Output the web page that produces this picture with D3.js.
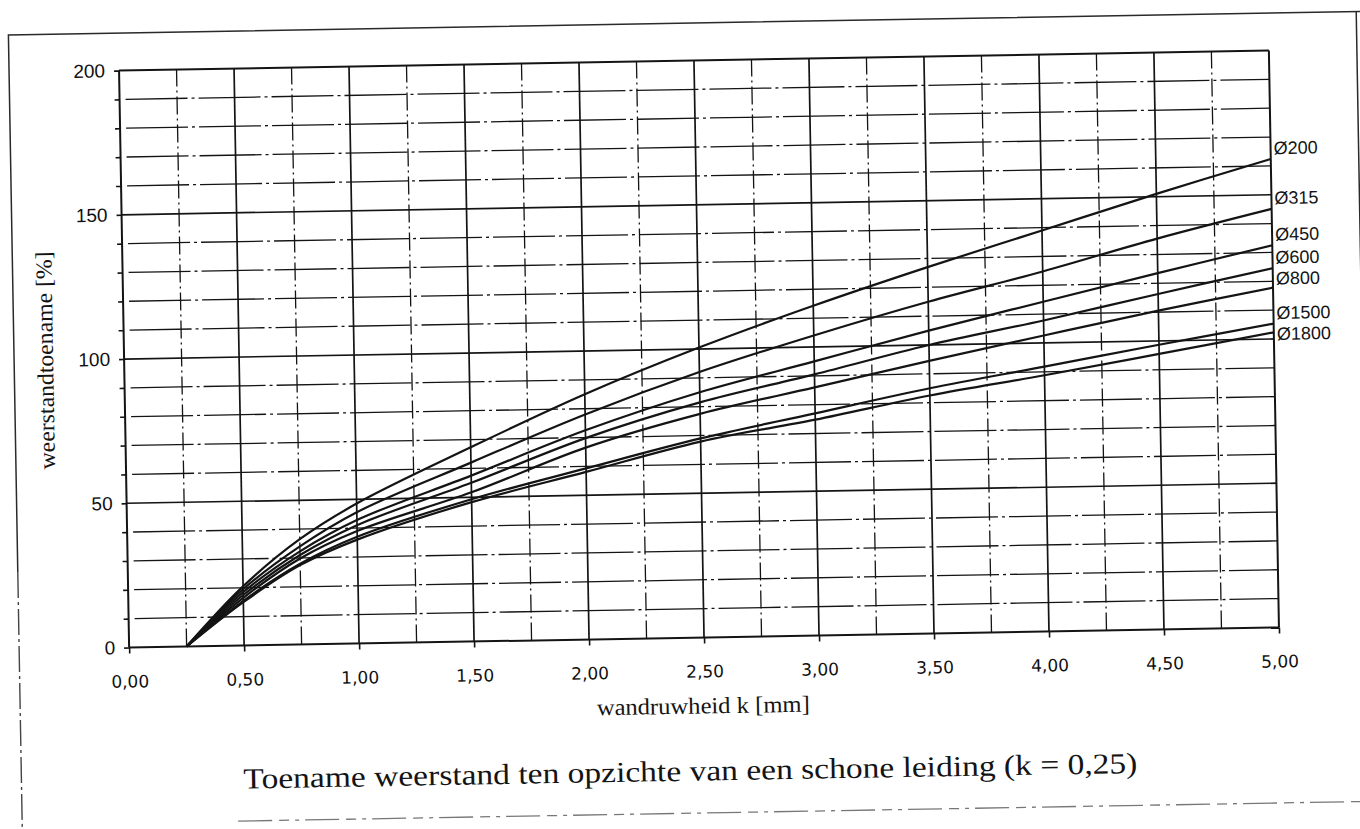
<!DOCTYPE html>
<html>
<head>
<meta charset="utf-8">
<script src="https://cdn.jsdelivr.net/npm/d3@7"></script>
<style>
  html, body { margin: 0; padding: 0; background: #fff; }
  svg { display: block; }
  .tick text { fill: #111; }
</style>
</head>
<body>
<div id="chart"></div>
<script>
// wall roughness k [mm]
const kValues = [0.25, 0.5, 0.75, 1, 1.5, 2, 2.5, 3, 3.5, 4, 4.5, 5];

// resistance increase [%] per pipe diameter
const d200 = [0, 20.5, 36.5, 48.5, 67.3, 85, 100.5, 114.3, 127, 139, 151, 162.4];
const d315 = [0, 19.5, 34, 45.5, 62, 78, 92, 104, 115, 124.8, 135.5, 145.1];
const d450 = [0, 18.5, 32.3, 42.8, 57.5, 72.5, 85, 95, 105, 114.3, 123.5, 132.5];
const d600 = [0, 17.5, 31, 41, 55, 69.8, 81.5, 90.5, 100, 107.8, 116.3, 124.5];
const d800 = [0, 16.5, 29.8, 39, 51.7, 66.5, 77.5, 86, 94.5, 102.6, 110.5, 117.8];
const d1500 = [0, 15.5, 28, 37, 49.3, 59.3, 69, 77, 85, 91.8, 98.7, 105.3];
const d1800 = [0, 15, 27.5, 36, 48.3, 58.1, 67.9, 74.8, 82.5, 88.8, 95.5, 102.3];

const seriesNames = ["Ø200", "Ø315", "Ø450", "Ø600", "Ø800", "Ø1500", "Ø1800"];
const seriesValues = [d200, d315, d450, d600, d800, d1500, d1800];

const xMajorTicks = d3.range(0, 5.001, 0.5);
const xMinorTicks = d3.range(0.25, 5, 0.5);
const yMajorTicks = [0, 50, 100, 150, 200];
const yMinorTicks = d3.range(10, 200, 10).filter((d) => d % 50 !== 0);

const yTitle = "weerstandtoename [%]";
const xTitle = "wandruwheid k [mm]";
const chartTitle = "Toename weerstand ten opzichte van een schone leiding (k = 0,25)";

const width = 1360;
const height = 829;
const margin = { top: 60.5, right: 86, bottom: 191.5, left: 124 };
const ink = "#141414";

const svg = d3
  .select("#chart")
  .append("svg")
  .attr("width", width)
  .attr("height", height)
  .style("background", "#fff");

// the scanned sheet sits about one degree askew
const cx = (margin.left + width - margin.right) / 2;
const cy = (margin.top + height - margin.bottom) / 2;
const g = svg.append("g").attr("transform", `rotate(-1, ${cx}, ${cy})`);

const x = d3.scaleLinear().domain([0, 5]).range([margin.left, width - margin.right]);
const y = d3.scaleLinear().domain([0, 200]).range([height - margin.bottom, margin.top]);

// page frame
const frame = g.append("g").attr("class", "frame").attr("fill", "none");
frame.append("path")
  .attr("d", `M14,560 V23 H1366`)
  .attr("stroke", "#2a2a2a")
  .attr("stroke-width", 1.5);
frame.append("path")
  .attr("d", `M14,560 V840`)
  .attr("stroke", "#444")
  .attr("stroke-width", 1.4)
  .attr("stroke-dasharray", "26,4,3,4");
frame.append("path")
  .attr("d", `M1362,23 V300`)
  .attr("stroke", "#2a2a2a")
  .attr("stroke-width", 1.5);
frame.append("path")
  .attr("d", `M230,813 H1366`)
  .attr("stroke", "#777")
  .attr("stroke-width", 1.3)
  .attr("stroke-dasharray", "34,7,10,6,4,6");

// grid
const grid = g.append("g").attr("class", "grid").attr("stroke", ink);

grid.selectAll(".y-minor")
  .data(yMinorTicks)
  .join("line")
  .attr("class", "y-minor")
  .attr("x1", x(0) + 6)
  .attr("x2", x(5))
  .attr("y1", (d) => y(d))
  .attr("y2", (d) => y(d))
  .attr("stroke-width", 1.3)
  .attr("stroke-dasharray", "62,4,3,4");

grid.selectAll(".x-minor")
  .data(xMinorTicks)
  .join("line")
  .attr("class", "x-minor")
  .attr("x1", (d) => x(d))
  .attr("x2", (d) => x(d))
  .attr("y1", y(0))
  .attr("y2", y(200))
  .attr("stroke-width", 1.3)
  .attr("stroke-dasharray", "18,4,2,4");

grid.selectAll(".y-major")
  .data(yMajorTicks)
  .join("line")
  .attr("class", "y-major")
  .attr("x1", x(0))
  .attr("x2", x(5))
  .attr("y1", (d) => y(d))
  .attr("y2", (d) => y(d))
  .attr("stroke-width", (d) => (d === 0 || d === 200 ? 2 : 1.7));

grid.selectAll(".x-major")
  .data(xMajorTicks)
  .join("line")
  .attr("class", "x-major")
  .attr("x1", (d) => x(d))
  .attr("x2", (d) => x(d))
  .attr("y1", y(0))
  .attr("y2", y(200))
  .attr("stroke-width", (d) => (d === 0 || d === 5 ? 2 : 1.7));

// axes
const commaFormat = (d) => d3.format(".2f")(d).replace(".", ",");

const yAxis = g.append("g")
  .attr("transform", `translate(${x(0)},0)`)
  .call(
    d3.axisLeft(y)
      .tickValues(d3.range(0, 201, 10))
      .tickSize(5)
      .tickPadding(9)
      .tickFormat((d) => (d % 50 === 0 ? d : ""))
  );
yAxis.select(".domain").remove();
yAxis.selectAll(".tick line").attr("stroke", ink).attr("stroke-width", 1.6);
yAxis.selectAll(".tick text")
  .attr("font-family", "'Liberation Sans', Arial, sans-serif")
  .attr("font-size", 19);

const xAxis = g.append("g")
  .attr("transform", `translate(0,${y(0)})`)
  .call(
    d3.axisBottom(x)
      .tickValues(xMajorTicks)
      .tickSize(6)
      .tickPadding(22)
      .tickFormat(commaFormat)
  );
xAxis.select(".domain").remove();
xAxis.selectAll(".tick line").attr("stroke", ink).attr("stroke-width", 1.6);
xAxis.selectAll(".tick text")
  .attr("font-family", "'DejaVu Sans', Verdana, sans-serif")
  .attr("font-size", 17);

// curves
const line = d3
  .line()
  .x((d) => x(d[0]))
  .y((d) => y(d[1]))
  .curve(d3.curveCatmullRom.alpha(0.5));

const series = seriesNames.map((name, i) => ({
  name,
  points: kValues.map((k, j) => [k, seriesValues[i][j]]),
}));

g.append("g")
  .attr("class", "curves")
  .selectAll("path")
  .data(series)
  .join("path")
  .attr("fill", "none")
  .attr("stroke", ink)
  .attr("stroke-width", 2.2)
  .attr("stroke-linejoin", "round")
  .attr("d", (d) => line(d.points));

// end labels, nudged down where they would collide
const labelYs = [];
series.forEach((d, i) => {
  let ly = y(d.points[d.points.length - 1][1]) - 11;
  if (i > 0 && ly < labelYs[i - 1] + 21) ly = labelYs[i - 1] + 21;
  labelYs.push(ly);
});

g.append("g")
  .attr("class", "labels")
  .selectAll("text")
  .data(series)
  .join("text")
  .attr("x", x(5) + 3)
  .attr("y", (d, i) => labelYs[i])
  .attr("dy", "0.35em")
  .attr("font-family", "'Liberation Sans', Arial, sans-serif")
  .attr("font-size", 18)
  .attr("fill", ink)
  .text((d) => d.name);

// titles
const serif = "'Liberation Serif', 'Times New Roman', serif";

g.append("text")
  .attr("transform", `translate(53,${(y(0) + y(200)) / 2}) rotate(-90)`)
  .attr("text-anchor", "middle")
  .attr("font-family", serif)
  .attr("font-size", 23)
  .attr("textLength", 218)
  .attr("lengthAdjust", "spacingAndGlyphs")
  .attr("fill", ink)
  .text(yTitle);

g.append("text")
  .attr("x", cx - 2)
  .attr("y", y(0) + 76)
  .attr("text-anchor", "middle")
  .attr("font-family", serif)
  .attr("font-size", 23)
  .attr("textLength", 213)
  .attr("lengthAdjust", "spacingAndGlyphs")
  .attr("fill", ink)
  .text(xTitle);

g.append("text")
  .attr("x", cx - 16)
  .attr("y", y(0) + 143)
  .attr("text-anchor", "middle")
  .attr("font-family", serif)
  .attr("font-size", 29)
  .attr("textLength", 894)
  .attr("lengthAdjust", "spacingAndGlyphs")
  .attr("fill", ink)
  .text(chartTitle);
</script>
</body>
</html>
